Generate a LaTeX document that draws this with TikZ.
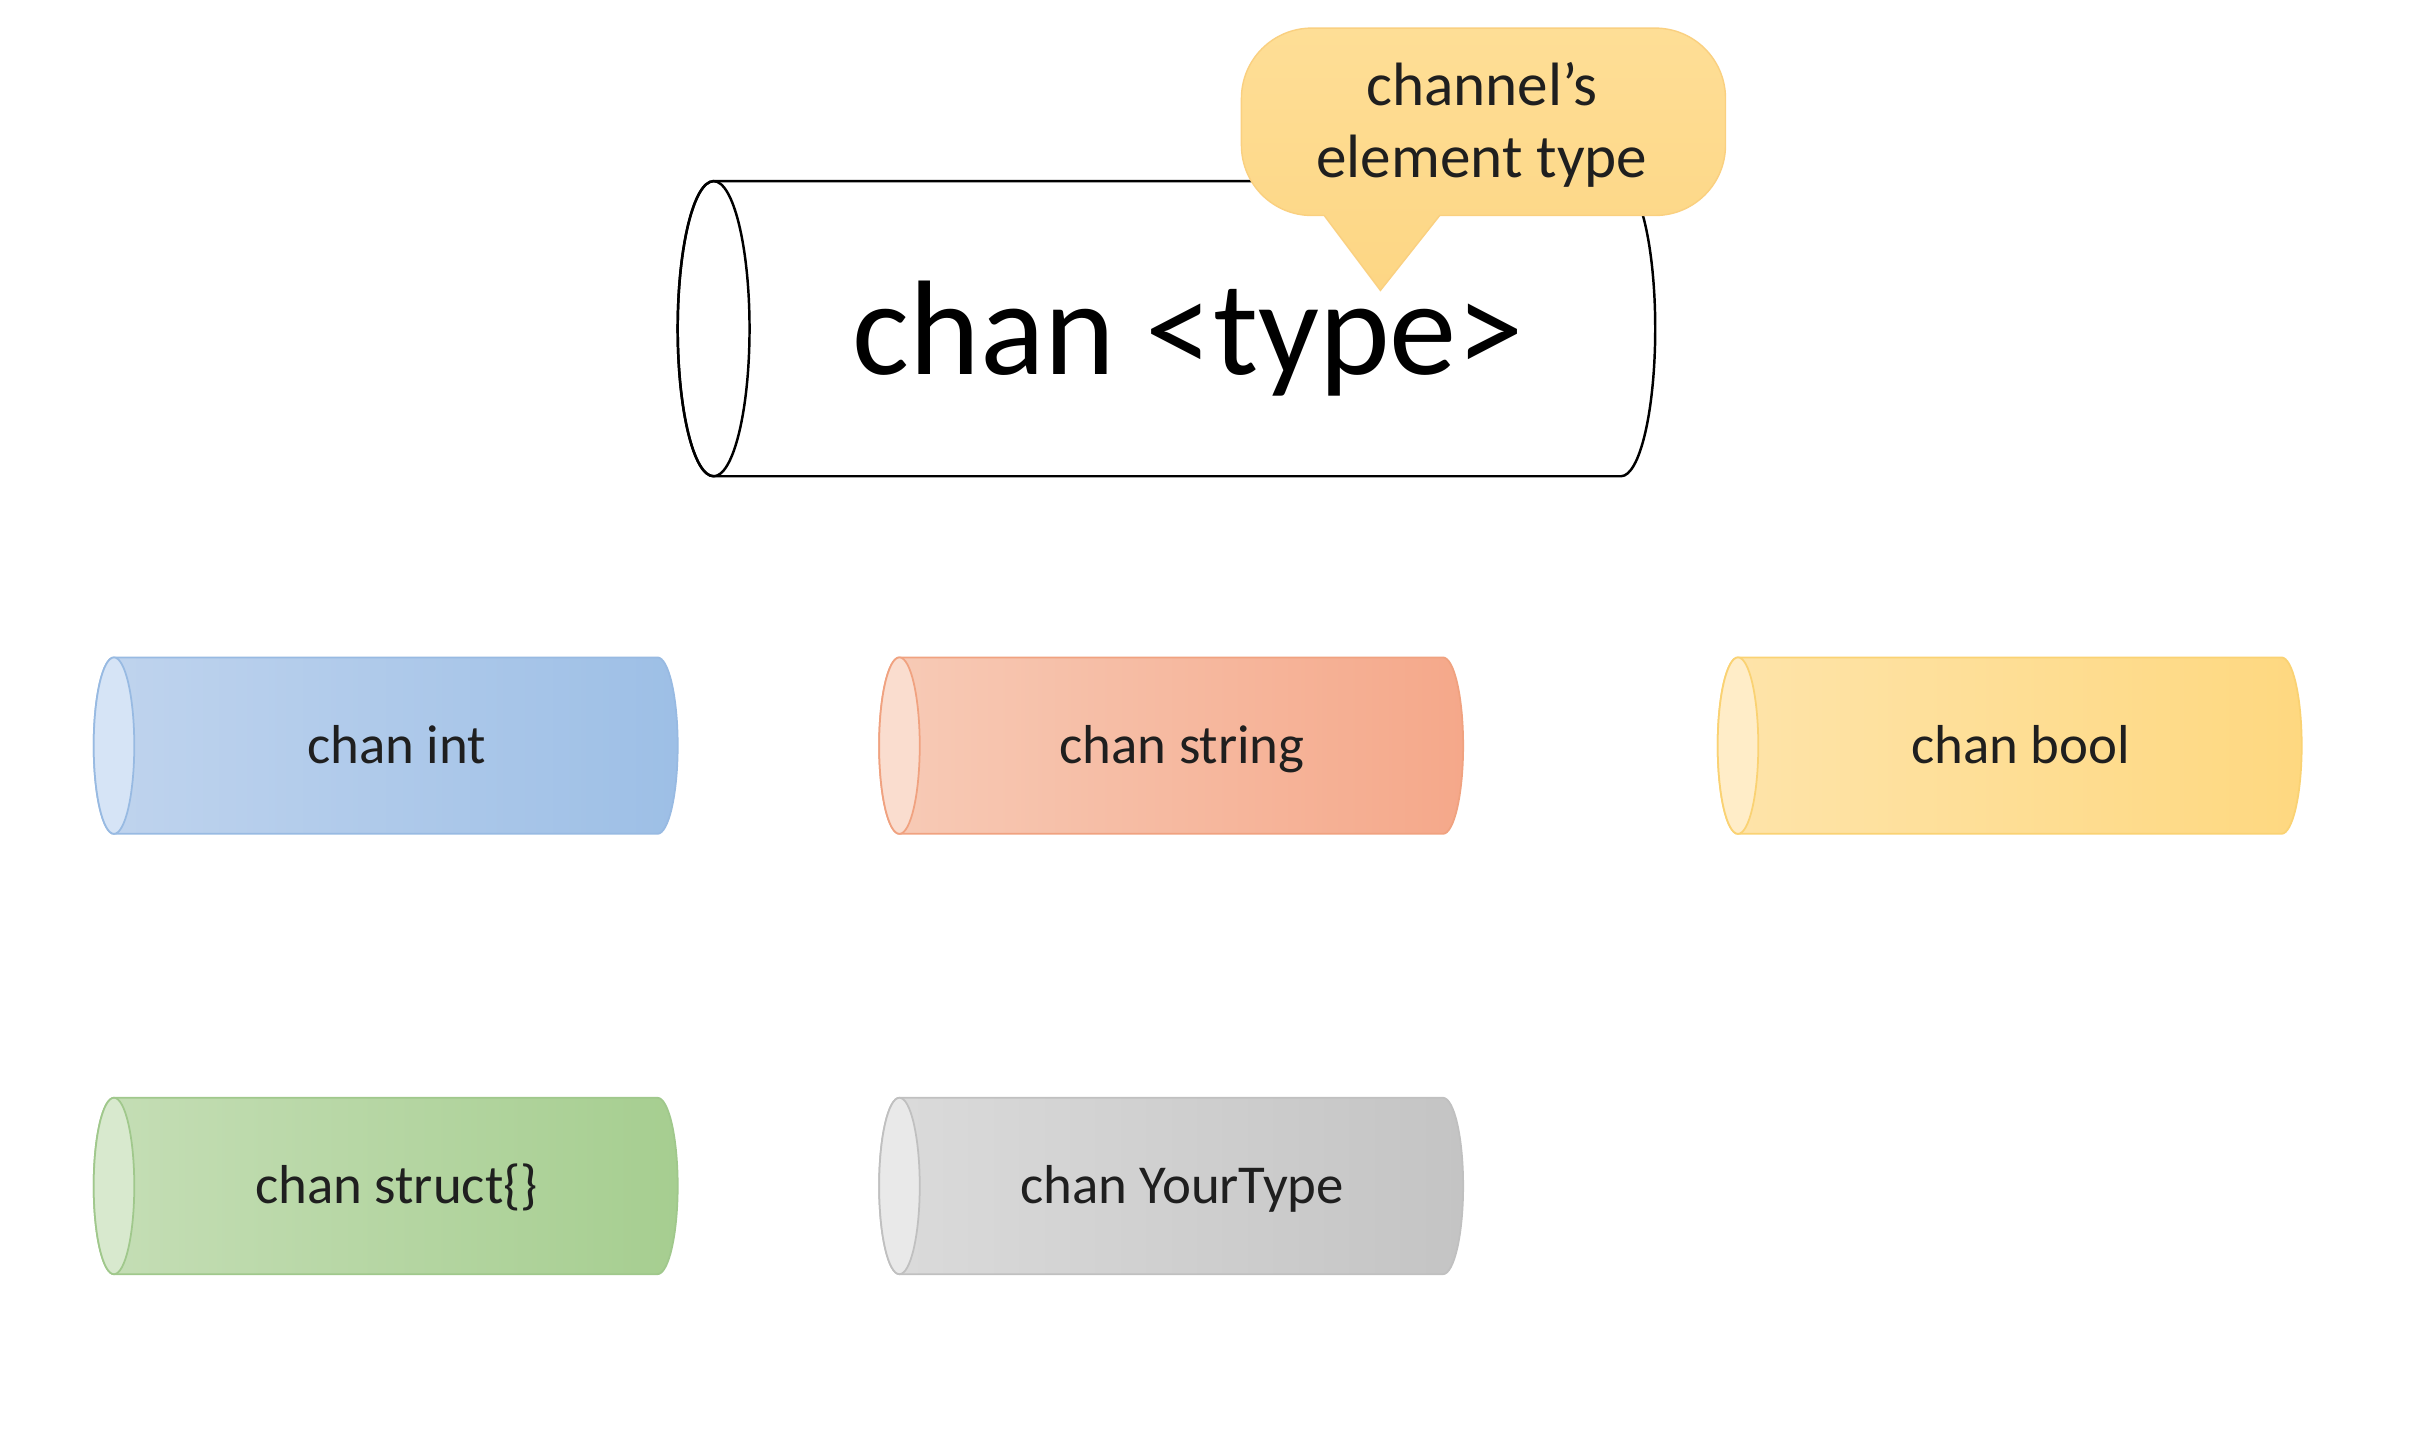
\documentclass[tikz,border=0pt]{standalone}
\usepackage{fontspec}
\setmainfont{Carlito}
\definecolor{intL}{RGB}{192,212,238}
\definecolor{intR}{RGB}{157,191,230}
\definecolor{intF}{RGB}{214,228,246}
\definecolor{intD}{RGB}{152,186,226}
\definecolor{strL}{RGB}{247,203,183}
\definecolor{strR}{RGB}{245,168,138}
\definecolor{strF}{RGB}{250,221,207}
\definecolor{strD}{RGB}{240,162,128}
\definecolor{boolL}{RGB}{254,228,170}
\definecolor{boolR}{RGB}{254,216,128}
\definecolor{boolF}{RGB}{255,237,200}
\definecolor{boolD}{RGB}{250,210,115}
\definecolor{structL}{RGB}{197,222,182}
\definecolor{structR}{RGB}{166,206,144}
\definecolor{structF}{RGB}{216,233,206}
\definecolor{structD}{RGB}{160,200,140}
\definecolor{yourL}{RGB}{219,219,219}
\definecolor{yourR}{RGB}{196,196,196}
\definecolor{yourF}{RGB}{233,233,233}
\definecolor{yourD}{RGB}{192,192,192}
\definecolor{tipT}{RGB}{254,222,150}
\definecolor{tipB}{RGB}{253,214,132}
\definecolor{tipD}{RGB}{250,208,128}
\begin{document}
\begin{tikzpicture}[x=0.0156154cm,y=-0.0156154cm,
        chanlabel/.style={font=\fontsize{15.6}{18}\selectfont,text=black!88,anchor=base,inner sep=0pt}]
    \fill[white] (0,0) rectangle (1560,919.6);
    \useasboundingbox (0,0) rectangle (1560,919.6);
    % le grand canal
    \draw[line width=0.7pt,fill=white] (457,116) -- (1038,116) arc[start angle=-90,end angle=90,x radius=22,y radius=94.5]
        -- (457,305) arc[start angle=90,end angle=270,x radius=23,y radius=94.5] -- cycle;
    \draw[line width=0.7pt] (457,210.5) ellipse[x radius=23,y radius=94.5];
    \node[font=\fontsize{38.3}{46}\selectfont,anchor=base,inner sep=0pt] (chtype) at (761,240) {chan <type>};
    % bulle
    \draw[draw=tipD,top color=tipT,bottom color=tipB,rounded corners=20] (795,18) -- (1105,18) -- (1105,138)
        [sharp corners] -- (922,138) -- (884,186) -- (848,138) [rounded corners=20] -- (795,138) -- cycle;
    \node[font=\fontsize{17.4}{20.5}\selectfont,align=center,text=black!88] (tiptext) at (949,80) {channel’s\\element type};
    % les petits canaux
    \foreach \x/\y/\col/\txt/\nm in {60/477.5/int/chan int/chint, 563/477.5/str/chan string/chstring,
            1100/477.5/bool/chan bool/chbool, 60/759.5/struct/chan struct\{\}/chstruct, 563/759.5/your/chan YourType/chyour}{
        \draw[line width=0.5pt,draw=\col D,left color=\col L,right color=\col R]
            (\x+13,\y-56.5) -- (\x+361,\y-56.5) arc[start angle=-90,end angle=90,x radius=13,y radius=56.5]
            -- (\x+13,\y+56.5) arc[start angle=90,end angle=270,x radius=13,y radius=56.5] -- cycle;
        \draw[line width=0.5pt,draw=\col D,fill=\col F] (\x+13,\y) ellipse[x radius=13,y radius=56.5];
        \node[chanlabel] (\nm) at (\x+194,\y+11.5) {\txt};
    }
\end{tikzpicture}
\end{document}
